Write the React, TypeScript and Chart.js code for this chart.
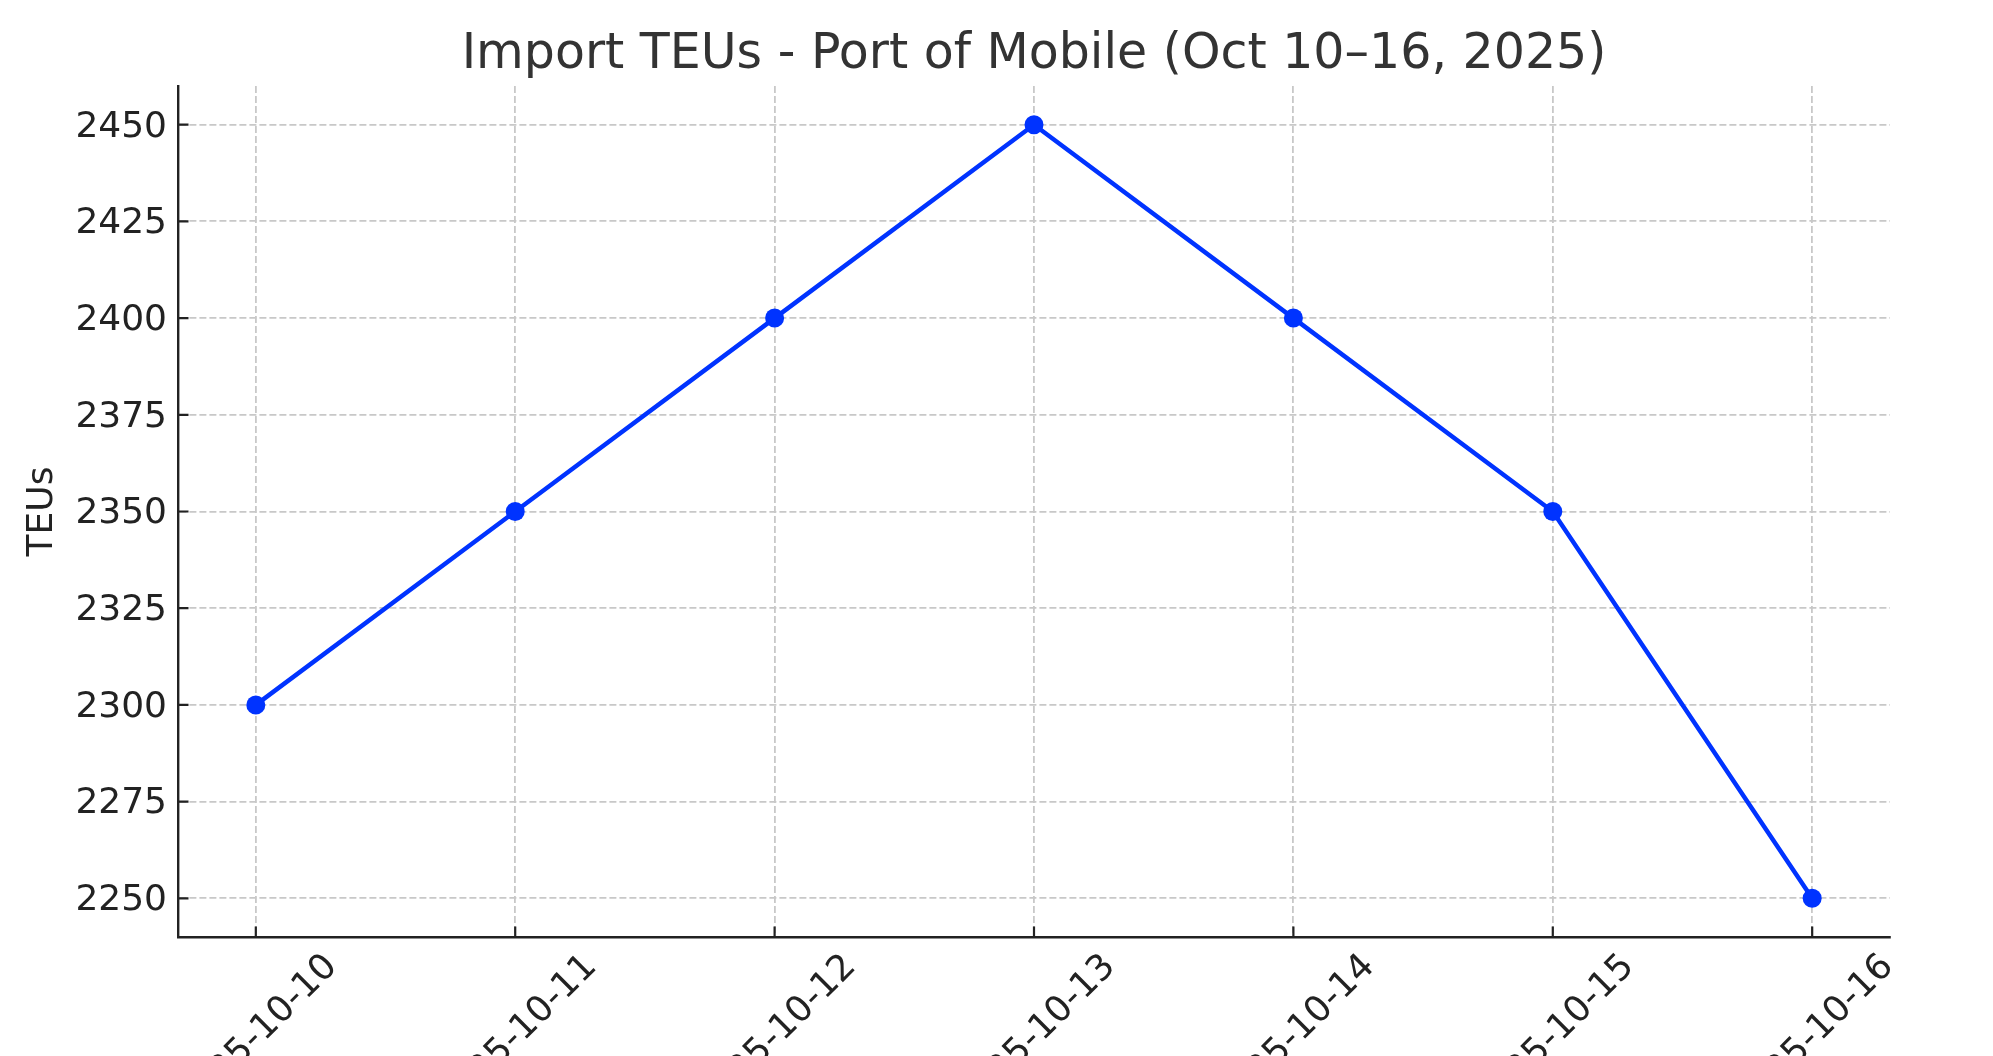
import React, { useEffect, useRef } from "react";
import { Chart, registerables } from "chart.js";

Chart.register(...registerables);

// ---- data ----
const categories: string[] = [
  "2025-10-10",
  "2025-10-11",
  "2025-10-12",
  "2025-10-13",
  "2025-10-14",
  "2025-10-15",
  "2025-10-16",
];
const teus: number[] = [2300, 2350, 2400, 2450, 2400, 2350, 2250];
const yTicks: number[] = [2250, 2275, 2300, 2325, 2350, 2375, 2400, 2425, 2450];
const yLimits: number[] = [2240, 2460];
const xLimits: number[] = [-0.3, 6.3];

const TITLE = "Import TEUs - Port of Mobile (Oct 10–16, 2025)";
const Y_TITLE = "TEUs";

const W = 1993;
const H = 1056;
const LINE_COLOR = "#0033ff";
const AXIS_COLOR = "#222222";
const GRID_COLOR = "#c8c8c8";
const FONT = "'DejaVu Sans', 'Liberation Sans', sans-serif";

const inwardTicks = {
  id: "inwardTicks",
  afterDatasetsDraw(chart: any) {
    const { ctx, chartArea, scales } = chart;
    const len = 10.5;
    ctx.save();
    ctx.strokeStyle = AXIS_COLOR;
    ctx.lineWidth = 2.2;
    ctx.beginPath();
    scales.x.ticks.forEach((t: any) => {
      const px = scales.x.getPixelForValue(t.value);
      ctx.moveTo(px, chartArea.bottom);
      ctx.lineTo(px, chartArea.bottom - len);
    });
    scales.y.ticks.forEach((t: any) => {
      const py = scales.y.getPixelForValue(t.value);
      ctx.moveTo(chartArea.left, py);
      ctx.lineTo(chartArea.left + len, py);
    });
    ctx.stroke();
    ctx.restore();
  },
};

export default function App() {
  const ref = useRef<HTMLCanvasElement | null>(null);

  useEffect(() => {
    document.body.style.margin = "0";
    document.body.style.overflow = "hidden";
    const canvas = ref.current;
    if (!canvas) return;
    Chart.defaults.font.family = FONT;

    const chart = new Chart(canvas, {
      type: "line",
      data: {
        datasets: [
          {
            label: "Import TEUs",
            data: teus.map((v, i) => ({ x: i, y: v })),
            borderColor: LINE_COLOR,
            backgroundColor: LINE_COLOR,
            borderWidth: 4.5,
            pointRadius: 9.5,
            pointBorderWidth: 0,
            pointBackgroundColor: LINE_COLOR,
            tension: 0,
            fill: false,
          },
        ],
      },
      options: {
        responsive: false,
        animation: false,
        devicePixelRatio: 1,
        layout: { padding: { left: 0, right: 103, top: 0, bottom: 0 } },
        plugins: {
          legend: { display: false },
          tooltip: { enabled: false },
          title: {
            display: true,
            fullSize: false,
            text: TITLE,
            color: "#333333",
            font: { family: FONT, size: 49, weight: "normal" },
            padding: { top: 26, bottom: 1.2 },
          },
        },
        scales: {
          x: {
            type: "linear",
            min: xLimits[0],
            max: xLimits[1],
            afterBuildTicks: (scale: any) => {
              scale.ticks = categories.map((_, i) => ({ value: i }));
            },
            afterFit: (scale: any) => {
              scale.height = 119;
            },
            ticks: {
              autoSkip: false,
              minRotation: 45,
              maxRotation: 45,
              padding: 9,
              labelOffset: 76,
              color: AXIS_COLOR,
              font: { family: FONT, size: 36 },
              callback: (_v: any, i: number) => categories[i],
            },
            grid: {
              display: true,
              drawTicks: false,
              color: GRID_COLOR,
              lineWidth: 1.8,
            },
            border: { display: true, color: AXIS_COLOR, width: 2.4, dash: [7, 3] },
          },
          y: {
            type: "linear",
            min: yLimits[0],
            max: yLimits[1],
            afterBuildTicks: (scale: any) => {
              scale.ticks = yTicks.map((v) => ({ value: v }));
            },
            afterFit: (scale: any) => {
              scale.width = 178;
            },
            ticks: {
              padding: 11,
              labelOffset: 2.5,
              color: AXIS_COLOR,
              font: { family: FONT, size: 36 },
              callback: (v: any) => String(v),
            },
            grid: {
              display: true,
              drawTicks: false,
              color: GRID_COLOR,
              lineWidth: 1.8,
            },
            border: { display: true, color: AXIS_COLOR, width: 2.4, dash: [7, 3] },
            title: {
              display: true,
              text: Y_TITLE,
              color: AXIS_COLOR,
              font: { family: FONT, size: 36 },
              padding: { top: 21, bottom: 0 },
            },
          },
        },
      },
      plugins: [inwardTicks],
    });
    return () => chart.destroy();
  }, []);

  return (
    <div style={{ width: W, height: H, overflow: "hidden", background: "#fff" }}>
      <canvas ref={ref} width={W} height={H} style={{ display: "block", width: W, height: H }} />
    </div>
  );
}
